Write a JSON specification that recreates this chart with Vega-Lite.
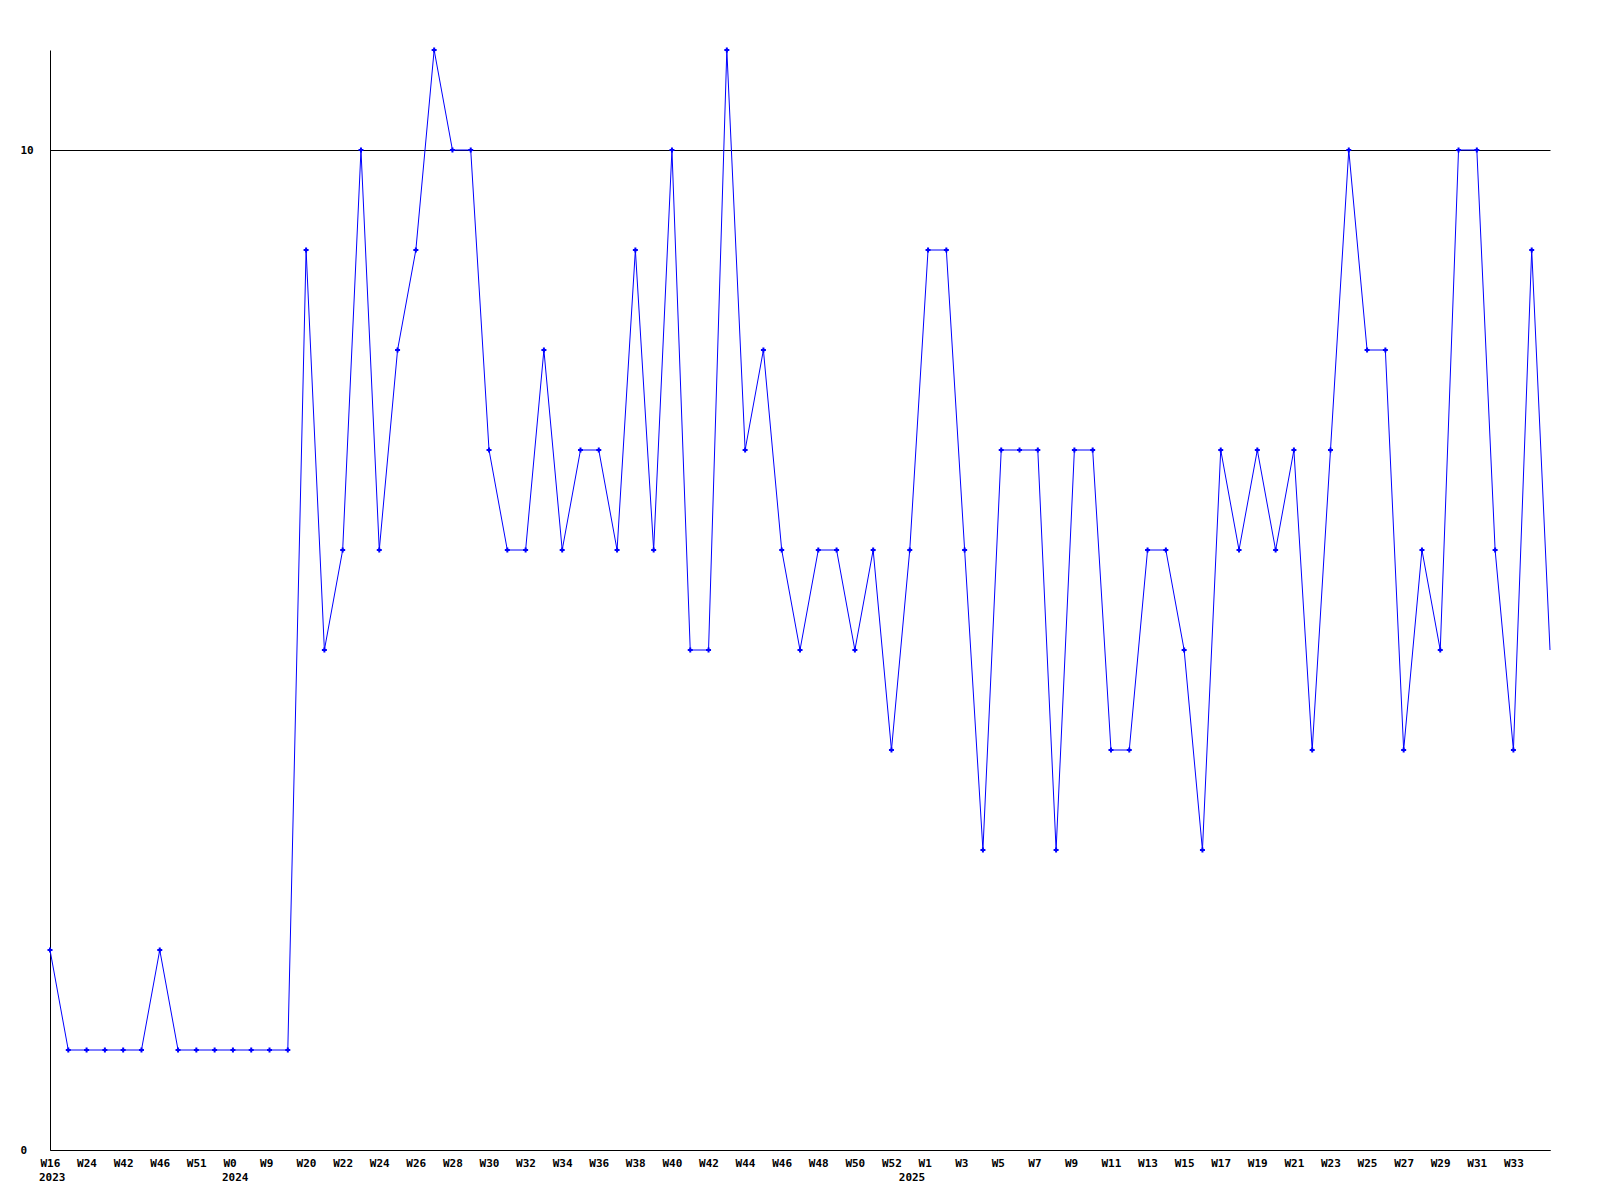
{
  "$schema": "https://vega.github.io/schema/vega-lite/v6.json",
  "width": 1500,
  "height": 1100,
  "autosize": {"type": "none"},
  "padding": {"left": 50, "top": 50, "right": 50, "bottom": 50},
  "background": "white",
  "config": {"view": {"stroke": null}},
  "data": {
    "values": [
      {"k": "00|W16", "v": 2, "yr": "2023"},
      {"k": "01|W20", "v": 1, "yr": ""},
      {"k": "02|W24", "v": 1, "yr": ""},
      {"k": "03|W38", "v": 1, "yr": ""},
      {"k": "04|W42", "v": 1, "yr": ""},
      {"k": "05|W44", "v": 1, "yr": ""},
      {"k": "06|W46", "v": 2, "yr": ""},
      {"k": "07|W49", "v": 1, "yr": ""},
      {"k": "08|W51", "v": 1, "yr": ""},
      {"k": "09|W52", "v": 1, "yr": ""},
      {"k": "10|W0", "v": 1, "yr": "2024"},
      {"k": "11|W5", "v": 1, "yr": ""},
      {"k": "12|W9", "v": 1, "yr": ""},
      {"k": "13|W15", "v": 1, "yr": ""},
      {"k": "14|W20", "v": 9, "yr": ""},
      {"k": "15|W21", "v": 5, "yr": ""},
      {"k": "16|W22", "v": 6, "yr": ""},
      {"k": "17|W23", "v": 10, "yr": ""},
      {"k": "18|W24", "v": 6, "yr": ""},
      {"k": "19|W25", "v": 8, "yr": ""},
      {"k": "20|W26", "v": 9, "yr": ""},
      {"k": "21|W27", "v": 11, "yr": ""},
      {"k": "22|W28", "v": 10, "yr": ""},
      {"k": "23|W29", "v": 10, "yr": ""},
      {"k": "24|W30", "v": 7, "yr": ""},
      {"k": "25|W31", "v": 6, "yr": ""},
      {"k": "26|W32", "v": 6, "yr": ""},
      {"k": "27|W33", "v": 8, "yr": ""},
      {"k": "28|W34", "v": 6, "yr": ""},
      {"k": "29|W35", "v": 7, "yr": ""},
      {"k": "30|W36", "v": 7, "yr": ""},
      {"k": "31|W37", "v": 6, "yr": ""},
      {"k": "32|W38", "v": 9, "yr": ""},
      {"k": "33|W39", "v": 6, "yr": ""},
      {"k": "34|W40", "v": 10, "yr": ""},
      {"k": "35|W41", "v": 5, "yr": ""},
      {"k": "36|W42", "v": 5, "yr": ""},
      {"k": "37|W43", "v": 11, "yr": ""},
      {"k": "38|W44", "v": 7, "yr": ""},
      {"k": "39|W45", "v": 8, "yr": ""},
      {"k": "40|W46", "v": 6, "yr": ""},
      {"k": "41|W47", "v": 5, "yr": ""},
      {"k": "42|W48", "v": 6, "yr": ""},
      {"k": "43|W49", "v": 6, "yr": ""},
      {"k": "44|W50", "v": 5, "yr": ""},
      {"k": "45|W51", "v": 6, "yr": ""},
      {"k": "46|W52", "v": 4, "yr": ""},
      {"k": "47|W0", "v": 6, "yr": "2025"},
      {"k": "48|W1", "v": 9, "yr": ""},
      {"k": "49|W2", "v": 9, "yr": ""},
      {"k": "50|W3", "v": 6, "yr": ""},
      {"k": "51|W4", "v": 3, "yr": ""},
      {"k": "52|W5", "v": 7, "yr": ""},
      {"k": "53|W6", "v": 7, "yr": ""},
      {"k": "54|W7", "v": 7, "yr": ""},
      {"k": "55|W8", "v": 3, "yr": ""},
      {"k": "56|W9", "v": 7, "yr": ""},
      {"k": "57|W10", "v": 7, "yr": ""},
      {"k": "58|W11", "v": 4, "yr": ""},
      {"k": "59|W12", "v": 4, "yr": ""},
      {"k": "60|W13", "v": 6, "yr": ""},
      {"k": "61|W14", "v": 6, "yr": ""},
      {"k": "62|W15", "v": 5, "yr": ""},
      {"k": "63|W16", "v": 3, "yr": ""},
      {"k": "64|W17", "v": 7, "yr": ""},
      {"k": "65|W18", "v": 6, "yr": ""},
      {"k": "66|W19", "v": 7, "yr": ""},
      {"k": "67|W20", "v": 6, "yr": ""},
      {"k": "68|W21", "v": 7, "yr": ""},
      {"k": "69|W22", "v": 4, "yr": ""},
      {"k": "70|W23", "v": 7, "yr": ""},
      {"k": "71|W24", "v": 10, "yr": ""},
      {"k": "72|W25", "v": 8, "yr": ""},
      {"k": "73|W26", "v": 8, "yr": ""},
      {"k": "74|W27", "v": 4, "yr": ""},
      {"k": "75|W28", "v": 6, "yr": ""},
      {"k": "76|W29", "v": 5, "yr": ""},
      {"k": "77|W30", "v": 10, "yr": ""},
      {"k": "78|W31", "v": 10, "yr": ""},
      {"k": "79|W32", "v": 6, "yr": ""},
      {"k": "80|W33", "v": 4, "yr": ""},
      {"k": "81|W34", "v": 9, "yr": ""},
      {"k": "82|W35", "v": 5, "yr": ""}
    ]
  },
  "encoding": {
    "x": {
      "field": "k",
      "type": "ordinal",
      "sort": null,
      "scale": {"type": "point", "padding": 0},
      "axis": {
        "title": null,
        "values": ["00|W16","02|W24","04|W42","06|W46","08|W51","10|W0","12|W9","14|W20","16|W22","18|W24","20|W26","22|W28","24|W30","26|W32","28|W34","30|W36","32|W38","34|W40","36|W42","38|W44","40|W46","42|W48","44|W50","46|W52","48|W1","50|W3","52|W5","54|W7","56|W9","58|W11","60|W13","62|W15","64|W17","66|W19","68|W21","70|W23","72|W25","74|W27","76|W29","78|W31","80|W33"],
        "labelExpr": "split(datum.value, '|')[1]",
        "labelAngle": 0,
        "labelAlign": "left",
        "labelBaseline": "alphabetic",
        "labelOffset": -10,
        "labelPadding": 16,
        "labelFont": "DejaVu Sans Mono",
        "labelFontWeight": "bold",
        "labelFontSize": 11,
        "labelColor": "black",
        "labelOverlap": false,
        "ticks": false,
        "grid": false,
        "domainColor": "black",
        "domainWidth": 1
      }
    }
  },
  "layer": [
    {
      "mark": {"type": "line", "color": "#0000ff", "strokeWidth": 1, "clip": false},
      "encoding": {
        "y": {
          "field": "v",
          "type": "quantitative",
          "scale": {"domain": [0, 11], "nice": false, "zero": true},
          "axis": {
            "title": null,
            "values": [0, 10],
            "format": "d",
            "labelAlign": "left",
            "labelPadding": 30,
            "ticks": false,
            "tickSize": 0,
            "grid": true,
            "gridColor": "black",
            "gridOpacity": 1,
            "gridWidth": 1,
            "domainColor": "black",
            "domainWidth": 1,
            "labelFont": "DejaVu Sans Mono",
            "labelFontWeight": "bold",
            "labelFontSize": 11,
            "labelColor": "black"
          }
        }
      }
    },
    {
      "transform": [{"filter": "datum.k != '82|W35'"}],
      "mark": {"type": "point", "shape": "cross", "size": 25, "filled": true, "opacity": 1, "color": "#0000ff", "strokeWidth": 0},
      "encoding": {
        "y": {"field": "v", "type": "quantitative"}
      }
    },
    {
      "transform": [{"filter": "datum.yr != ''"}],
      "mark": {"type": "text", "align": "left", "baseline": "alphabetic", "dx": -11, "dy": 31, "font": "DejaVu Sans Mono", "fontWeight": "bold", "fontSize": 11, "color": "black"},
      "encoding": {
        "y": {"datum": 0},
        "text": {"field": "yr"}
      }
    }
  ]
}
